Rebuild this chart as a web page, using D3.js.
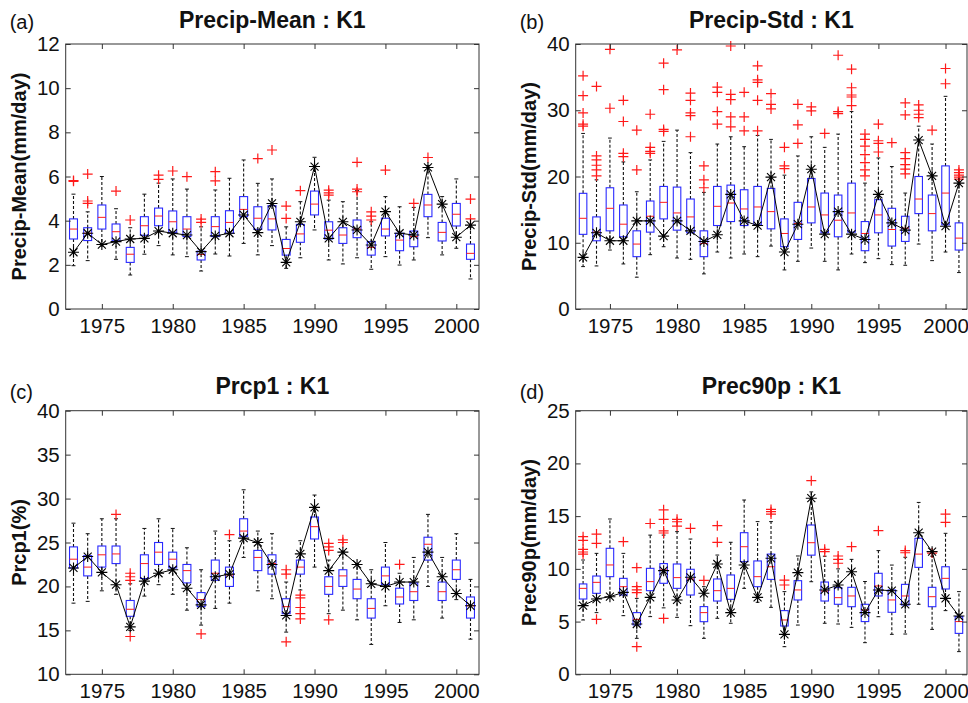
<!DOCTYPE html>
<html>
<head>
<meta charset="utf-8">
<script src="https://cdn.jsdelivr.net/npm/d3@7"></script>
<style>
body { margin: 0; background: #fff; }
svg text { font-family: "Liberation Sans", Arial, sans-serif; fill: #111; }
</style>
</head>
<body>
<div id="chart"></div>
<script>
const years = [1973, 1974, 1975, 1976, 1977, 1978, 1979, 1980, 1981, 1982, 1983, 1984, 1985, 1986, 1987,
    1988, 1989, 1990, 1991, 1992, 1993, 1994, 1995, 1996, 1997, 1998, 1999, 2000, 2001];
const xTicks = [1975, 1980, 1985, 1990, 1995, 2000];

// (a) Precip-Mean
const meanQ3  = [4.08, 3.68, 4.71, 3.85, 2.79, 4.18, 4.57, 4.44, 4.18, 2.62, 4.18, 4.45, 5.09, 4.63, 4.68, 3.15, 3.83, 5.34, 3.95, 3.68, 4.03, 3.05, 4.11, 3.43, 3.53, 5.19, 3.92, 4.78, 2.94];
const meanMed = [3.62, 3.43, 4.15, 3.50, 2.48, 3.77, 4.21, 3.95, 3.62, 2.47, 3.73, 3.92, 4.51, 4.11, 4.08, 2.74, 3.40, 4.75, 3.57, 3.35, 3.62, 2.79, 3.62, 3.12, 3.28, 4.71, 3.47, 4.29, 2.52];
const meanQ1  = [3.17, 3.10, 3.62, 3.09, 2.11, 3.34, 3.77, 3.47, 3.28, 2.22, 3.28, 3.43, 4.18, 3.61, 3.58, 2.44, 3.02, 4.26, 3.17, 2.97, 3.23, 2.44, 3.31, 2.64, 2.82, 4.18, 3.08, 3.76, 2.25];
const meanHi  = [5.20, 4.40, 6.00, 4.54, 3.68, 5.20, 5.70, 5.89, 5.43, 3.72, 5.39, 5.92, 6.75, 5.69, 5.89, 3.72, 4.86, 6.87, 4.93, 4.86, 5.36, 3.95, 5.09, 4.63, 4.60, 6.50, 5.09, 5.89, 3.70];
const meanLo  = [1.96, 2.19, 2.85, 2.25, 1.54, 2.48, 2.87, 2.45, 2.37, 1.72, 2.49, 2.40, 2.97, 2.45, 2.87, 1.84, 2.32, 3.58, 2.22, 2.04, 2.32, 1.80, 2.37, 1.99, 2.22, 3.23, 2.45, 2.75, 1.36];
const meanLine = [2.57, 3.43, 2.92, 3.05, 3.17, 3.20, 3.53, 3.43, 3.35, 2.60, 3.31, 3.43, 4.26, 3.46, 4.78, 2.11, 3.95, 6.45, 3.20, 3.95, 3.58, 2.90, 4.41, 3.43, 3.35, 6.41, 4.75, 3.25, 3.80];
const meanOut = [[5.82, 5.78], [6.11, 4.89, 4.78], [], [5.34], [4.03], [], [6.06, 5.87], [6.25], [5.99], [4.07, 3.92],
    [6.22, 5.80], [], [], [6.81], [7.20], [4.66, 4.10], [5.36], [], [5.38, 5.26, 5.16], [], [6.64, 5.43, 5.31],
    [4.40, 4.21, 4.03], [6.29], [], [4.78], [6.86], [], [], [4.98, 4.08]];

// (b) Precip-Std
const stdQ3  = [17.46, 13.9, 18.3, 15.7, 11.8, 16.3, 18.5, 18.4, 16.6, 11.8, 18.5, 18.7, 18.0, 18.5, 18.2, 13.6, 16.1, 19.7, 17.5, 17.2, 19.0, 13.2, 16.5, 15.2, 14.0, 20.0, 17.2, 21.6, 13.0];
const stdMed = [13.69, 11.6, 15.2, 12.8, 9.8, 14.0, 16.1, 14.5, 13.9, 9.9, 15.5, 16.0, 15.1, 15.4, 14.7, 11.4, 12.9, 15.4, 14.2, 13.4, 14.5, 11.4, 14.2, 12.0, 12.2, 16.6, 14.4, 17.5, 10.7];
const stdQ1  = [11.27, 10.3, 11.8, 10.9, 7.9, 11.6, 13.6, 11.9, 11.5, 7.9, 12.6, 13.2, 12.6, 12.7, 12.1, 9.4, 10.5, 13.0, 11.5, 10.9, 11.6, 8.8, 11.5, 9.5, 10.2, 14.4, 11.8, 12.7, 8.9];
const stdHi  = [26.5, 19.5, 25.8, 22.2, 17.7, 22.5, 25.3, 27.0, 23.6, 17.6, 24.9, 26.0, 24.5, 26.2, 25.6, 20.2, 23.1, 26.0, 24.4, 26.4, 29.8, 19.0, 22.8, 21.5, 17.5, 27.6, 24.9, 32.1, 18.8];
const stdLo  = [6.4, 6.5, 8.9, 6.8, 4.8, 8.2, 9.4, 7.7, 7.5, 5.3, 8.6, 7.7, 8.3, 7.9, 9.5, 5.9, 7.2, 9.2, 7.2, 5.9, 8.3, 7.0, 7.6, 6.7, 6.6, 9.8, 7.3, 8.6, 5.5];
const stdLine = [7.8, 11.5, 10.3, 10.3, 13.3, 13.3, 11.0, 13.3, 11.8, 10.2, 11.2, 17.3, 13.3, 12.6, 19.9, 8.6, 12.8, 21.1, 11.3, 14.7, 11.3, 10.5, 17.3, 13.0, 11.9, 25.5, 20.1, 12.5, 19.0];
const stdOut = [[35.2, 32.2, 29.6, 27.9, 27.6], [33.6, 23.1, 22.5, 21.7, 21.0, 20.1], [39.2, 30.3], [31.5, 28.3, 23.5, 23.0],
    [27.0, 21.0], [29.4, 24.4, 23.8, 23.5], [37.1, 33.1, 27.1, 26.8], [39.1], [32.6, 31.5, 29.6, 29.2, 26.0],
    [21.6, 19.5, 18.3], [33.5, 32.7, 29.8, 27.9], [39.7, 32.4, 31.6, 29.0, 27.5], [32.7, 29.0, 26.9],
    [36.7, 34.6, 34.2, 31.5, 26.9], [32.5, 30.9, 30.2], [24.4, 21.6, 21.2], [30.9, 27.8, 25.0], [30.5, 29.9],
    [26.5], [38.3, 29.8, 29.5], [36.2, 33.4, 32.3, 32.0, 30.7], [26.4, 25.6, 24.6, 23.3, 22.1, 21.0, 20.1],
    [27.9, 25.4, 25.0, 23.7], [25.1], [31.1, 29.3, 23.6, 22.7, 21.8, 21.1, 20.4], [30.8, 30.0, 29.4, 28.9],
    [27.0], [36.3, 34.0], [21.0, 20.6, 20.2, 19.9, 19.6]];

// (c) Prcp1
const prcpQ3  = [24.5, 23.5, 24.6, 24.6, 18.4, 23.6, 25.0, 23.9, 22.5, 19.3, 23.0, 22.2, 27.7, 24.1, 23.6, 18.6, 23.0, 27.9, 21.1, 21.9, 20.8, 18.6, 22.2, 19.8, 20.4, 25.6, 20.5, 23.0, 18.8];
const prcpMed = [23.1, 22.2, 23.6, 23.7, 17.4, 22.6, 23.9, 23.1, 21.8, 18.5, 21.5, 21.3, 26.3, 23.3, 22.6, 17.7, 22.2, 26.8, 20.0, 21.2, 19.7, 17.5, 21.2, 18.8, 19.4, 24.8, 19.4, 21.9, 17.8];
const prcpQ1  = [22.1, 21.2, 22.2, 22.6, 16.6, 20.9, 22.5, 22.1, 20.4, 17.7, 20.7, 20.0, 25.7, 21.8, 21.4, 16.9, 21.4, 25.4, 19.1, 20.0, 18.6, 16.4, 20.2, 18.0, 18.4, 23.0, 18.4, 20.8, 16.4];
const prcpHi  = [27.2, 26.0, 27.7, 27.7, 20.3, 26.6, 27.7, 26.6, 24.4, 21.9, 26.3, 25.2, 31.0, 26.3, 26.0, 20.5, 25.2, 30.4, 23.0, 24.0, 22.6, 21.9, 25.0, 21.5, 23.3, 28.2, 23.3, 26.0, 20.8];
const prcpLo  = [18.1, 18.3, 19.5, 19.1, 15.0, 18.9, 20.2, 19.1, 17.3, 15.6, 17.5, 18.1, 23.3, 19.5, 18.6, 14.8, 19.6, 22.2, 16.9, 17.3, 16.2, 13.4, 17.8, 15.9, 16.2, 20.0, 16.4, 18.5, 14.0];
const prcpLine = [22.1, 23.4, 21.6, 20.2, 15.4, 20.6, 21.5, 21.9, 19.8, 17.9, 21.1, 21.4, 25.5, 25.0, 22.5, 16.7, 23.7, 29.0, 21.8, 23.9, 22.5, 20.3, 20.0, 20.5, 20.5, 23.9, 21.1, 19.2, 17.8];
const prcpOut = [[], [], [], [28.2], [21.5, 21.1, 20.7, 14.3], [], [], [], [], [14.6], [], [25.9], [], [], [],
    [21.9, 21.4, 13.7], [19.0, 18.7, 17.6, 16.9, 16.3], [], [24.9, 24.5, 24.1, 16.2], [25.3, 25.0], [], [], [],
    [22.5], [], [], [], [], []];

// (d) Prec90p
const p90Q3  = [8.57, 9.32, 11.95, 9.10, 5.85, 10.05, 10.50, 10.46, 9.96, 6.42, 9.04, 9.42, 13.43, 10.75, 11.40, 6.04, 8.88, 14.16, 8.75, 8.22, 8.25, 6.64, 9.58, 8.00, 8.53, 12.90, 8.25, 10.20, 5.47];
const p90Med = [8.15, 8.72, 10.37, 8.31, 5.21, 8.79, 9.90, 9.17, 9.04, 5.85, 7.93, 8.15, 12.10, 9.26, 10.20, 5.15, 8.00, 12.48, 7.90, 7.27, 7.43, 6.10, 8.38, 7.05, 7.43, 11.40, 7.36, 9.10, 5.00];
const p90Q1  = [7.14, 7.68, 9.26, 7.52, 4.68, 7.93, 8.63, 8.15, 7.52, 4.99, 6.95, 7.11, 10.68, 8.31, 9.00, 4.58, 7.05, 11.30, 6.95, 6.64, 6.41, 5.00, 7.43, 5.88, 6.57, 10.14, 6.41, 8.09, 3.88];
const p90Hi  = [10.84, 11.47, 14.73, 11.47, 7.20, 13.20, 13.20, 13.53, 12.83, 8.31, 11.31, 12.52, 16.53, 14.48, 14.48, 7.84, 11.22, 17.30, 11.20, 10.00, 10.90, 8.80, 11.73, 10.36, 11.10, 16.30, 11.20, 13.37, 7.84];
const p90Lo  = [5.15, 5.85, 7.30, 5.56, 3.41, 5.47, 6.30, 5.40, 4.61, 3.41, 5.31, 4.84, 8.15, 6.83, 6.35, 2.62, 4.67, 8.78, 4.84, 4.77, 4.45, 3.00, 5.46, 3.79, 3.82, 6.64, 4.26, 6.04, 2.15];
const p90Line = [6.51, 7.14, 7.36, 7.77, 4.77, 7.30, 9.83, 7.05, 9.20, 7.68, 10.46, 5.85, 10.37, 7.30, 11.00, 3.79, 9.64, 16.70, 8.00, 8.47, 9.73, 5.85, 8.00, 7.93, 6.64, 13.43, 11.63, 7.20, 5.53];
const p90Out = [[13.05, 12.7, 11.85, 11.6, 11.4], [13.3, 12.42, 5.21], [], [12.58], [10.11, 8.31, 8.0, 7.74, 2.62], [14.3],
    [15.6, 14.7, 13.6, 13.4, 5.3], [14.7, 14.47, 14.06], [13.84], [8.9], [14.1, 12.52], [], [], [], [15.64, 15.42, 15.2],
    [8.94, 8.47], [], [18.36], [11.85, 11.63], [11.22, 10.9, 10.53], [12.1], [], [13.62], [], [11.73, 11.53], [],
    [11.5], [15.2, 14.41], []];

const svg = d3.select("#chart").append("svg")
    .attr("width", 968)
    .attr("height", 703);

const boxBlue = "#2a2aff";
const medRed = "#ff1a1a";

function drawPanel(p) {
    const x = d3.scaleLinear().domain([1972.45, 2001.6]).range([p.left, p.right]);
    const y = d3.scaleLinear().domain(p.yDomain).range([p.bottom, p.top]);
    const g = svg.append("g");
    const hw = (x(1) - x(0)) * 0.28; // half box width
    const cw = (x(1) - x(0)) * 0.14; // half cap width

    const rows = years.map((yr, i) => ({
        yr: yr, q3: p.q3[i], med: p.med[i], q1: p.q1[i],
        hi: p.hi[i], lo: p.lo[i], line: p.line[i], out: p.out[i]
    }));

    // whiskers
    g.selectAll(".wup").data(rows).enter().append("line")
        .attr("x1", d => x(d.yr)).attr("x2", d => x(d.yr))
        .attr("y1", d => y(d.q3)).attr("y2", d => y(d.hi))
        .attr("stroke", "#111").attr("stroke-width", 1.1).attr("stroke-dasharray", "3,2");
    g.selectAll(".wdn").data(rows).enter().append("line")
        .attr("x1", d => x(d.yr)).attr("x2", d => x(d.yr))
        .attr("y1", d => y(d.q1)).attr("y2", d => y(d.lo))
        .attr("stroke", "#111").attr("stroke-width", 1.1).attr("stroke-dasharray", "3,2");

    // caps
    ["hi", "lo"].forEach(k => {
        g.selectAll(".cap-" + k).data(rows).enter().append("line")
            .attr("x1", d => x(d.yr) - cw).attr("x2", d => x(d.yr) + cw)
            .attr("y1", d => y(d[k])).attr("y2", d => y(d[k]))
            .attr("stroke", "#111");
    });

    // boxes
    g.selectAll(".box").data(rows).enter().append("rect")
        .attr("x", d => x(d.yr) - hw)
        .attr("y", d => y(d.q3))
        .attr("width", hw * 2)
        .attr("height", d => y(d.q1) - y(d.q3))
        .attr("fill", "none")
        .attr("stroke", boxBlue)
        .attr("stroke-width", 1.1);

    // medians
    g.selectAll(".med").data(rows).enter().append("line")
        .attr("x1", d => x(d.yr) - hw).attr("x2", d => x(d.yr) + hw)
        .attr("y1", d => y(d.med)).attr("y2", d => y(d.med))
        .attr("stroke", medRed);

    // outliers
    const outs = [];
    rows.forEach(d => d.out.forEach(v => outs.push({ yr: d.yr, v: v })));
    g.selectAll(".out").data(outs).enter().append("path")
        .attr("transform", d => `translate(${x(d.yr)},${y(d.v)})`)
        .attr("d", "M-5,0H5M0,-5V5")
        .attr("stroke", medRed).attr("stroke-width", 1.2);

    // series line with asterisks
    g.append("path")
        .datum(rows)
        .attr("fill", "none")
        .attr("stroke", "#000")
        .attr("stroke-width", 1)
        .attr("d", d3.line().x(d => x(d.yr)).y(d => y(d.line)));
    g.selectAll(".star").data(rows).enter().append("path")
        .attr("transform", d => `translate(${x(d.yr)},${y(d.line)})`)
        .attr("d", "M-5.5,0H5.5M0,-5.5V5.5M-4,-4L4,4M-4,4L4,-4")
        .attr("stroke", "#000").attr("stroke-width", 1.1);

    // axes (ticks inward, mirrored)
    const ax = [
        g.append("g").attr("transform", `translate(0,${p.bottom})`)
            .call(d3.axisBottom(x).tickValues(xTicks).tickFormat(d3.format("d")).tickSizeInner(-5).tickSizeOuter(0).tickPadding(9)),
        g.append("g").attr("transform", `translate(0,${p.top})`)
            .call(d3.axisTop(x).tickValues(xTicks).tickFormat("").tickSizeInner(-5).tickSizeOuter(0)),
        g.append("g").attr("transform", `translate(${p.left},0)`)
            .call(d3.axisLeft(y).tickValues(p.yTicks).tickSizeInner(-5).tickSizeOuter(0).tickPadding(6)),
        g.append("g").attr("transform", `translate(${p.right},0)`)
            .call(d3.axisRight(y).tickValues(p.yTicks).tickFormat("").tickSizeInner(-5).tickSizeOuter(0))
    ];
    ax.forEach(a => {
        a.select(".domain").remove();
        a.selectAll("line").attr("stroke", "#333");
        a.selectAll("text").attr("font-size", 20.5).attr("fill", "#111")
            .style("font-family", '"Liberation Sans", Arial, sans-serif');
    });

    g.append("rect")
        .attr("x", p.left).attr("y", p.top)
        .attr("width", p.right - p.left).attr("height", p.bottom - p.top)
        .attr("fill", "none").attr("stroke", "#333");

    // titles and labels
    g.append("text")
        .attr("x", (p.left + p.right) / 2).attr("y", p.top - 16.5)
        .attr("text-anchor", "middle")
        .attr("font-size", 23).attr("font-weight", "bold")
        .text(p.title);
    g.append("text")
        .attr("x", p.left - 56).attr("y", p.letterY)
        .attr("font-size", 20)
        .text(p.letter);
    g.append("text")
        .attr("transform", `translate(${p.left - 40},${(p.top + p.bottom) / 2}) rotate(-90)`)
        .attr("text-anchor", "middle")
        .attr("font-size", 20).attr("font-weight", "bold")
        .text(p.ylabel);
}

drawPanel({ left: 65.7, right: 479, top: 44, bottom: 309, yDomain: [0, 12], yTicks: [0, 2, 4, 6, 8, 10, 12],
    title: "Precip-Mean : K1", letter: "(a)", letterY: 29, ylabel: "Precip-Mean(mm/day)",
    q3: meanQ3, med: meanMed, q1: meanQ1, hi: meanHi, lo: meanLo, line: meanLine, out: meanOut });
drawPanel({ left: 575.7, right: 967, top: 44, bottom: 309, yDomain: [0, 40], yTicks: [0, 10, 20, 30, 40],
    title: "Precip-Std : K1", letter: "(b)", letterY: 29, ylabel: "Precip-Std(mm/day)",
    q3: stdQ3, med: stdMed, q1: stdQ1, hi: stdHi, lo: stdLo, line: stdLine, out: stdOut });
drawPanel({ left: 65.7, right: 479, top: 410.7, bottom: 674.3, yDomain: [10, 40], yTicks: [10, 15, 20, 25, 30, 35, 40],
    title: "Prcp1 : K1", letter: "(c)", letterY: 399, ylabel: "Prcp1(%)",
    q3: prcpQ3, med: prcpMed, q1: prcpQ1, hi: prcpHi, lo: prcpLo, line: prcpLine, out: prcpOut });
drawPanel({ left: 575.7, right: 967, top: 410.7, bottom: 674.3, yDomain: [0, 25], yTicks: [0, 5, 10, 15, 20, 25],
    title: "Prec90p : K1", letter: "(d)", letterY: 399, ylabel: "Prec90p(mm/day)",
    q3: p90Q3, med: p90Med, q1: p90Q1, hi: p90Hi, lo: p90Lo, line: p90Line, out: p90Out });
</script>
</body>
</html>
